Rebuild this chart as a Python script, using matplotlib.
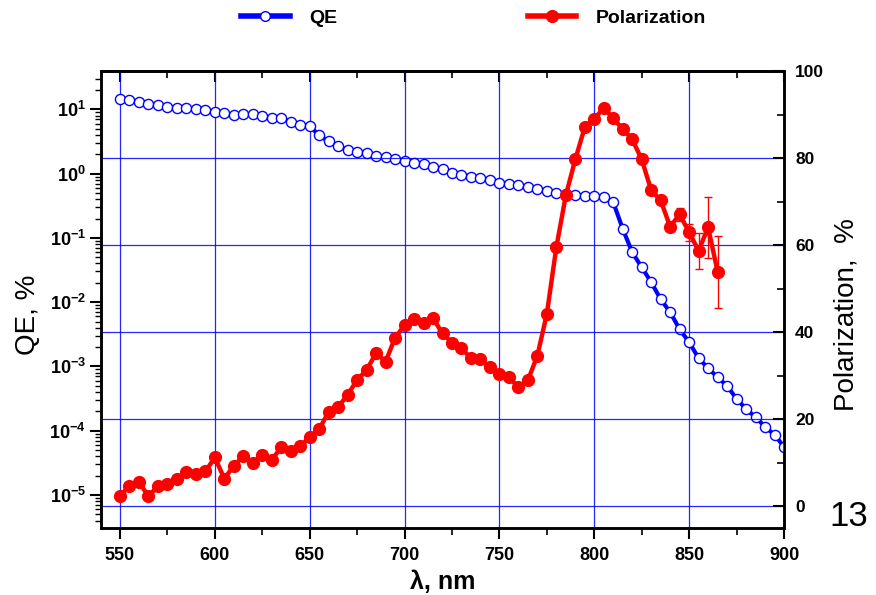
import numpy as np
import matplotlib
matplotlib.use("Agg")
import matplotlib.pyplot as plt
from matplotlib.ticker import LogLocator, NullFormatter, FuncFormatter, MultipleLocator
from matplotlib.lines import Line2D

plt.rcParams['font.family'] = ['Liberation Sans', 'DejaVu Sans']
plt.rcParams['mathtext.fontset'] = 'custom'
plt.rcParams['mathtext.bf'] = 'Liberation Sans:bold'
plt.rcParams['mathtext.rm'] = 'Liberation Sans'

# ---- data ----
wl_qe = list(range(550, 901, 5))
qe = [14.6, 13.96, 12.85, 12.08, 11.53, 10.96, 10.59, 10.38, 10.12, 9.64,
      9.08, 8.67, 8.07, 8.45, 8.45, 7.87, 7.33, 7.33, 6.41, 5.77,
      5.45, 3.94, 3.16, 2.66, 2.33, 2.19, 2.07, 1.86, 1.79, 1.71,
      1.58, 1.46, 1.41, 1.28, 1.17, 1.01, 0.962, 0.895, 0.845, 0.804,
      0.721, 0.689, 0.673, 0.612, 0.582, 0.542, 0.505, 0.476, 0.465, 0.442,
      0.449, 0.438, 0.358, 0.138, 0.0596, 0.0349, 0.0204, 0.0111, 6.97e-3, 3.79e-3,
      2.38e-3, 1.34e-3, 9.38e-4, 6.79e-4, 4.98e-4, 3.13e-4, 2.18e-4, 1.62e-4, 1.16e-4, 8.61e-5,
      5.66e-5]

wl_pol = list(range(550, 866, 5))
pol = [2.45, 4.6, 5.6, 2.3, 4.6, 5.0, 6.35, 7.8, 7.5, 8.0,
       11.2, 6.35, 9.3, 11.5, 9.9, 11.8, 10.7, 13.5, 12.6, 13.75,
       15.9, 17.7, 21.7, 22.8, 25.6, 29.0, 31.3, 35.2, 33.2, 38.7,
       41.6, 43.0, 42.2, 43.2, 39.7, 37.6, 36.3, 34.0, 33.8, 31.9,
       30.4, 29.6, 27.4, 28.9, 34.6, 44.2, 59.5, 71.4, 79.7, 87.1,
       88.9, 91.6, 89.1, 86.7, 84.3, 79.7, 72.6, 70.3, 64.2, 67.1,
       62.9, 58.7, 64.1, 53.9]
pol_err = [0] * 58 + [0.5, 1.5, 2.0, 4.1, 7.0, 8.3]

qe_ticks = [1e-5, 1e-4, 1e-3, 1e-2, 1e-1, 1e0, 1e1]
pol_ticks = [0, 20, 40, 60, 80, 100]
x_ticks = [550, 600, 650, 700, 750, 800, 850, 900]

# ---- figure ----
fig = plt.figure(figsize=(8.76, 5.95), dpi=100)
ax1 = fig.add_axes([101/876, 1 - 528/595, (784 - 101)/876, (528 - 71)/595])
ax2 = ax1.twinx()

ax1.plot(wl_qe, qe, color='blue', lw=3, marker='o', ms=7.3, mfc='white',
         mec='blue', mew=1, zorder=3)
ax1.set_yscale('log')
ax1.set_ylim(3.07e-6, 39.4)
ax1.set_xlim(540, 900)

ax2.errorbar(wl_pol, pol, yerr=pol_err, fmt='none', ecolor='red', elinewidth=1,
             capsize=3, capthick=1, zorder=2)
ax2.plot(wl_pol, pol, color='red', lw=3.2, marker='o', ms=8.5, mfc='red',
         mec='red', zorder=3)
ax2.set_ylim(-5, 100)

# grid
ax1.set_xticks(x_ticks)
ax1.xaxis.set_minor_locator(MultipleLocator(25))
ax1.grid(axis='x', which='major', color='blue', lw=0.9, alpha=0.85)
ax2.set_yticks(pol_ticks)
ax2.yaxis.set_minor_locator(MultipleLocator(10))
ax2.grid(axis='y', which='major', color='blue', lw=0.9, alpha=0.85)
ax2.set_axisbelow(True)

# ticks
ax1.set_yticks(qe_ticks)
ax1.yaxis.set_minor_locator(LogLocator(base=10, subs=np.arange(2, 10), numticks=20))
ax1.yaxis.set_minor_formatter(NullFormatter())
ax1.yaxis.set_major_formatter(FuncFormatter(lambda v, p: r'$\mathbf{10^{%d}}$' % round(np.log10(v))))

ax1.tick_params(axis='x', which='major', direction='out', length=8, width=1.5,
                labelsize=13, pad=6)
ax1.tick_params(axis='x', which='minor', direction='out', length=5, width=1.2)
ax1.tick_params(axis='y', which='major', direction='out', length=8, width=1.5,
                labelsize=13, pad=3)
ax1.tick_params(axis='y', which='minor', direction='out', length=4, width=1)
ax2.tick_params(axis='y', which='major', direction='in', length=8, width=1.5,
                labelsize=12.5, pad=8)
ax2.tick_params(axis='y', which='minor', direction='in', length=5, width=1.2)

for lab in ax1.get_xticklabels() + ax2.get_yticklabels():
    lab.set_fontweight('bold')

top = ax1.secondary_xaxis('top')
top.set_xticks(x_ticks)
top.xaxis.set_minor_locator(MultipleLocator(25))
top.tick_params(axis='x', which='major', direction='in', length=8, width=1.5, labeltop=False)
top.tick_params(axis='x', which='minor', direction='in', length=5, width=1.2)

for ax in (ax1, ax2):
    for s in ax.spines.values():
        s.set_linewidth(1.8)
top.spines['top'].set_linewidth(1.8)

ax1.set_xlabel('λ, nm', fontsize=18, fontweight='bold', labelpad=4)
ax1.set_ylabel('QE, %', fontsize=20)
ax1.yaxis.set_label_coords(-0.088, 0.466)
ax2.set_ylabel('Polarization,  %', fontsize=20)
ax2.yaxis.set_label_coords(1.073, 0.466)

fig.text(849/876, 1 - 517/595, '13', fontsize=25, ha='center', va='center')

handles = [Line2D([], [], color='blue', lw=4, marker='o', ms=7, mfc='white', mec='blue'),
           Line2D([], [], color='red', lw=4, marker='o', ms=8.5, mfc='red', mec='red')]
fig.legend(handles, ['QE', 'Polarization'], loc='center', bbox_to_anchor=(0.5405, 0.97),
           ncol=2, frameon=False, handlelength=2.5, handletextpad=1.0, columnspacing=9.8,
           prop={'weight': 'bold', 'size': 14})

fig.savefig('out.png', dpi=100)
